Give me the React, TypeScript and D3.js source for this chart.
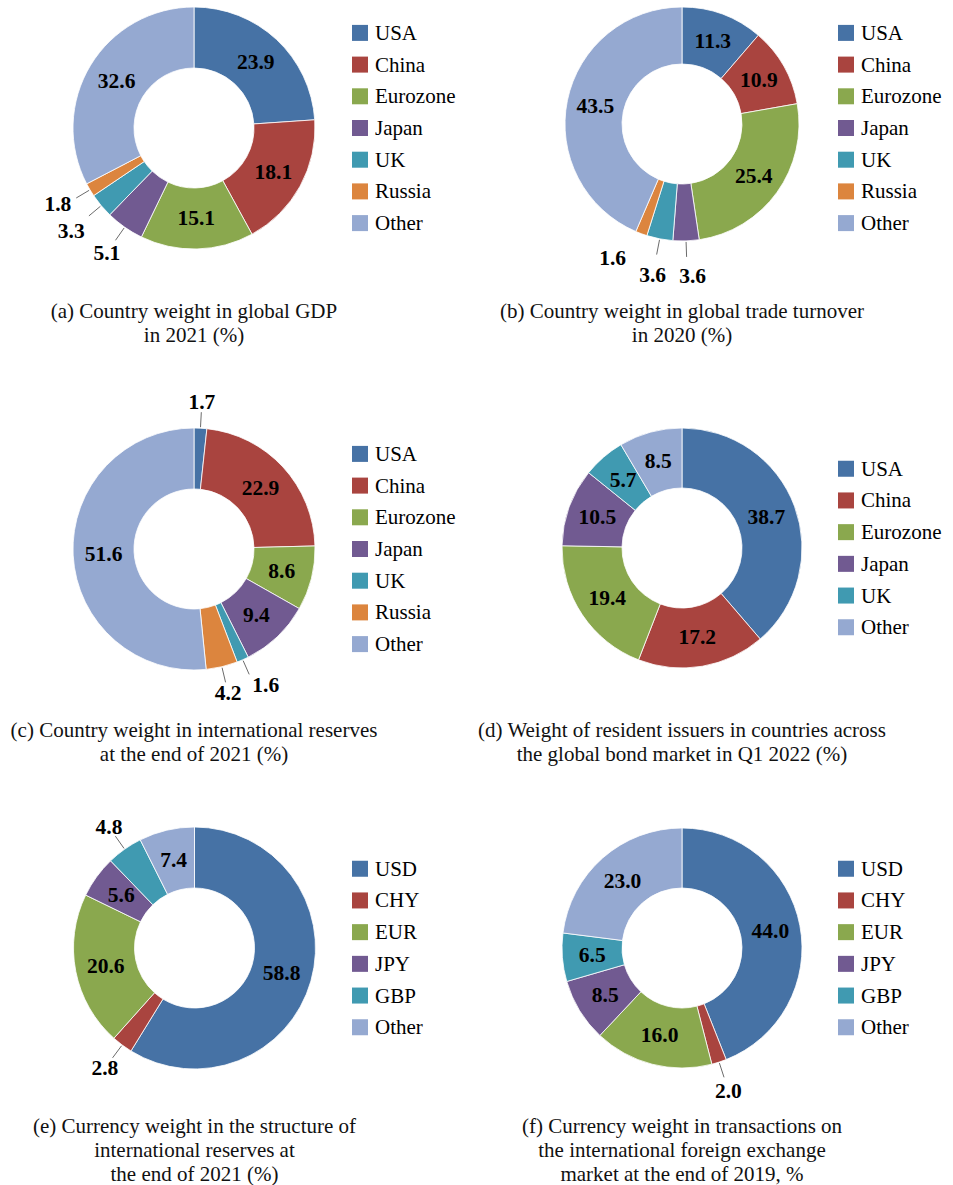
import React from "react";
import * as d3 from "d3";

// ---------- DATA ----------
const countryNames = ["USA", "China", "Eurozone", "Japan", "UK", "Russia", "Other"];
const countryNamesNoRussia = ["USA", "China", "Eurozone", "Japan", "UK", "Other"];
const currencyNames = ["USD", "CHY", "EUR", "JPY", "GBP", "Other"];

const gdpValues = [23.9, 18.1, 15.1, 5.1, 3.3, 1.8, 32.6];
const tradeValues = [11.3, 10.9, 25.4, 3.6, 3.6, 1.6, 43.5];
const reservesValues = [1.7, 22.9, 8.6, 9.4, 1.6, 4.2, 51.6];
const bondValues = [38.7, 17.2, 19.4, 10.5, 5.7, 8.5];
const reserveCurrencyValues = [58.8, 2.8, 20.6, 5.6, 4.8, 7.4];
const fxValues = [44.0, 2.0, 16.0, 8.5, 6.5, 23.0];

const captionA = ["(a) Country weight in global GDP", "in 2021 (%)"];
const captionB = ["(b) Country weight in global trade turnover", "in 2020 (%)"];
const captionC = ["(c) Country weight in international reserves", "at the end of 2021 (%)"];
const captionD = ["(d) Weight of resident issuers in countries across", "the global bond market in Q1 2022 (%)"];
const captionE = ["(e) Currency weight in the structure of", "international reserves at", "the end of 2021 (%)"];
const captionF = ["(f) Currency weight in transactions on", "the international foreign exchange", "market at the end of 2019, %"];

// ---------- STYLE ----------
const colorBlue = "#4672a5";
const colorRed = "#a9443f";
const colorGreen = "#8aa84e";
const colorPurple = "#715a91";
const colorTeal = "#409ab1";
const colorOrange = "#dc853e";
const colorLight = "#95a9d1";
const palette7 = [colorBlue, colorRed, colorGreen, colorPurple, colorTeal, colorOrange, colorLight];
const palette6 = [colorBlue, colorRed, colorGreen, colorPurple, colorTeal, colorLight];

type Outside = { r: number; da?: number; leader?: boolean };

const charts = [
  { names: countryNames, values: gdpValues, colors: palette7, caption: captionA, cx: 194, cy: 128, r: 121,
    outside: { 3: { r: 152, leader: true }, 4: { r: 160, leader: true }, 5: { r: 156, da: 1.5, leader: true } } as Record<number, Outside>,
    legendX: 352, captionY: 318 },
  { names: countryNames, values: tradeValues, colors: palette7, caption: captionB, cx: 682, cy: 124, r: 117,
    outside: { 3: { r: 152, da: -2, leader: true }, 4: { r: 154, leader: true }, 5: { r: 151, da: 7, leader: false } } as Record<number, Outside>,
    legendX: 838, legendCy: 128, captionY: 318 },
  { names: countryNames, values: reservesValues, colors: palette7, caption: captionC, cx: 194, cy: 549, r: 121,
    outside: { 0: { r: 147, leader: true }, 4: { r: 154, da: -4, leader: true }, 5: { r: 148, leader: true } } as Record<number, Outside>,
    legendX: 352, captionY: 737 },
  { names: countryNamesNoRussia, values: bondValues, colors: palette6, caption: captionD, cx: 682, cy: 548, r: 120,
    outside: {} as Record<number, Outside>, legendX: 838, captionY: 737 },
  { names: currencyNames, values: reserveCurrencyValues, colors: palette6, caption: captionE, cx: 194.5, cy: 948, r: 121,
    outside: { 1: { r: 150, leader: true }, 4: { r: 148, leader: true } } as Record<number, Outside>,
    legendX: 352, captionY: 1133 },
  { names: currencyNames, values: fxValues, colors: palette6, caption: captionF, cx: 682, cy: 948, r: 120,
    outside: { 1: { r: 150, leader: true } } as Record<number, Outside>,
    legendX: 838, captionY: 1133 },
];

const fmt = d3.format(".1f");
const textStyle: React.CSSProperties = { fontFamily: "'Liberation Serif', serif" };
const LABEL_SIZE = 21.5;
const TEXT_SIZE = 21;

function Donut({ chart }: { chart: typeof charts[number] }) {
  const { names, values, colors, cx, cy, r, outside } = chart;
  const inner = 60;
  const pie = d3.pie<number>().sort(null).value((d) => d);
  const arcs = pie(values);
  const arcGen = d3.arc<d3.PieArcDatum<number>>().innerRadius(inner).outerRadius(r);
  const color = d3.scaleOrdinal<string, string>().domain(names).range(colors);

  const polar = (ang: number, rad: number) => [Math.sin(ang) * rad, -Math.cos(ang) * rad];

  const legendSpacing = 31.7;
  const legendCy = (chart as any).legendCy ?? cy;
  const legendTop = legendCy - ((names.length - 1) / 2) * legendSpacing;

  return (
    <g>
      <g transform={`translate(${cx},${cy})`}>
        {arcs.map((a, i) => (
          <path key={i} d={arcGen(a) || ""} fill={color(names[i])} stroke="#ffffff" strokeWidth={0.8} />
        ))}
        {arcs.map((a, i) => {
          const mid = (a.startAngle + a.endAngle) / 2;
          const o = outside[i];
          let tx: number, ty: number;
          let leader: React.ReactNode = null;
          if (o) {
            const ang = mid + ((o.da || 0) * Math.PI) / 180;
            [tx, ty] = polar(ang, o.r);
            const [l1x, l1y] = polar(mid, r + 1);
            const [l2x, l2y] = polar(mid, r + 16);
            if (o.leader) leader = <line x1={l1x} y1={l1y} x2={l2x} y2={l2y} stroke="#6b6b6b" strokeWidth={1} />;
          } else {
            [tx, ty] = arcGen.centroid(a);
          }
          return (
            <g key={"l" + i}>
              {leader}
              <text x={tx} y={ty} textAnchor="middle" dominantBaseline="central" style={textStyle}
                fontWeight="bold" fontSize={LABEL_SIZE} fill="#000">{fmt(values[i])}</text>
            </g>
          );
        })}
      </g>
      <g>
        {names.map((n, i) => {
          const y = legendTop + i * legendSpacing;
          return (
            <g key={"lg" + i}>
              <rect x={chart.legendX} y={y - 8} width={16} height={16} fill={color(n)} />
              <text x={chart.legendX + 23} y={y} dominantBaseline="central" style={textStyle} fontSize={TEXT_SIZE} fill="#000">{n}</text>
            </g>
          );
        })}
      </g>
      <g>
        {chart.caption.map((line, i) => (
          <text key={"c" + i} x={cx} y={chart.captionY + i * 24} textAnchor="middle" style={textStyle} fontSize={TEXT_SIZE} fill="#111">{line}</text>
        ))}
      </g>
    </g>
  );
}

export default function App() {
  return (
    <svg width={953} height={1185} viewBox="0 0 953 1185" style={{ position: "absolute", left: 0, top: 0, background: "#fff" }}>
      <rect x={0} y={0} width={953} height={1185} fill="#fff" />
      {charts.map((c, i) => (
        <Donut key={i} chart={c} />
      ))}
    </svg>
  );
}
